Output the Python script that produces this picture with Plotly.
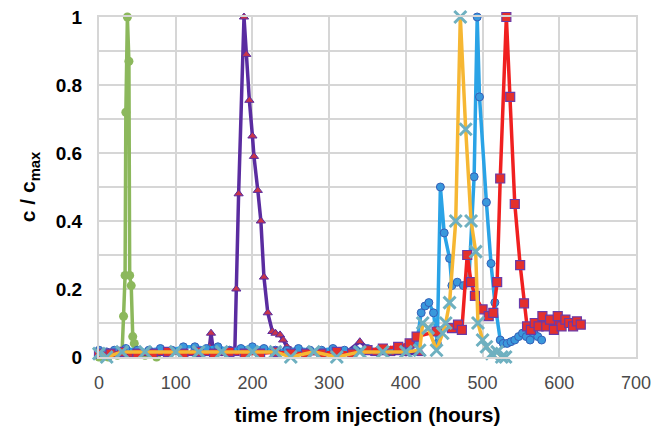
import plotly.graph_objects as go

# ---- data (hours, c/cmax) ----
green_x = [0, 12, 24, 30, 32, 34, 35, 37, 39, 40, 42, 44, 46, 48, 52, 60, 75]
green_y = [0.0, 0.0, 0.005, 0.01, 0.12, 0.24, 0.72, 1.0, 0.87, 0.24, 0.21, 0.06, 0.04, 0.02, 0.01, 0.005, 0.0]

purple_x = [0, 20, 40, 60, 80, 100, 120, 140, 144, 146, 149, 155, 165, 177, 179, 182, 189, 192, 196,
            200, 202, 207, 211, 215, 220, 226, 230, 236, 240, 245, 250, 270, 300, 320, 340, 360, 380, 400, 420]
purple_y = [0.01, 0.01, 0.005, 0.01, 0.01, 0.015, 0.01, 0.01, 0.03, 0.07, 0.02, 0.01, 0.01, 0.01, 0.2, 0.48,
            1.0, 0.89, 0.755, 0.65, 0.59, 0.49, 0.40, 0.235, 0.13, 0.075, 0.07, 0.065, 0.05, 0.03, 0.02,
            0.01, 0.01, 0.01, 0.045, 0.01, 0.01, 0.01, 0.01]

blue_x = [0, 10, 20, 35, 50, 65, 80, 95, 110, 125, 140, 155, 170, 185, 200, 215, 230, 245, 260, 275,
          290, 305, 320, 335, 350, 365, 380, 395, 405, 414, 420, 425, 430, 436, 441, 445, 450, 457, 460,
          467, 475, 482, 489, 493, 496, 505, 511, 516, 523, 527, 532, 537, 542, 547, 552, 557, 562, 567,
          572, 577]
blue_y = [0.02, 0.015, 0.02, 0.025, 0.02, 0.02, 0.025, 0.02, 0.03, 0.03, 0.025, 0.03, 0.02, 0.025, 0.03,
          0.025, 0.02, 0.02, 0.025, 0.02, 0.02, 0.025, 0.02, 0.02, 0.025, 0.02, 0.02, 0.025, 0.03, 0.04,
          0.13, 0.15, 0.16, 0.13, 0.04, 0.50, 0.365, 0.29, 0.21, 0.22, 0.21, 0.22, 0.53, 1.0, 0.765, 0.455,
          0.275, 0.16, 0.05, 0.04, 0.04, 0.045, 0.05, 0.06, 0.07, 0.06, 0.05, 0.07, 0.06, 0.05]

red_x = [0, 15, 30, 50, 70, 90, 110, 130, 150, 170, 190, 210, 230, 250, 270, 290, 310, 330, 350, 370,
         390, 405, 414, 440, 460, 468, 473, 480, 485, 490, 500, 508, 514, 519, 523, 531, 536, 542, 549,
         554, 558, 563, 568, 573, 578, 583, 588, 593, 598, 603, 608, 613, 618, 623, 628]
red_y = [0.01, 0.01, 0.015, 0.01, 0.01, 0.015, 0.01, 0.015, 0.01, 0.015, 0.01, 0.01, 0.015, 0.01, 0.01,
         0.01, 0.015, 0.01, 0.02, 0.025, 0.03, 0.04, 0.06, 0.075, 0.085, 0.095, 0.08, 0.30, 0.22, 0.18,
         0.14, 0.12, 0.13, 0.22, 0.525, 1.0, 0.765, 0.45, 0.27, 0.158, 0.09, 0.08, 0.10, 0.09, 0.12, 0.09,
         0.11, 0.08, 0.12, 0.09, 0.11, 0.10, 0.09, 0.105, 0.095]

yellow_x = [0, 10, 30, 60, 100, 130, 160, 200, 230, 250, 280, 310, 340, 370, 400, 418, 422, 429, 440,
            448, 452, 457, 465, 471, 478, 485, 491, 494, 500, 505, 512, 519, 525, 530]
yellow_y = [0.01, 0.0, 0.015, 0.015, 0.015, 0.015, 0.015, 0.015, 0.015, 0.0, 0.015, 0.0, 0.015, 0.015,
            0.015, 0.02, 0.10, 0.085, 0.02, 0.07, 0.10, 0.16, 0.40, 1.0, 0.67, 0.40, 0.31, 0.10, 0.05,
            0.03, 0.01, 0.015, 0.0, 0.0]

x_ticks = [0, 100, 200, 300, 400, 500, 600, 700]
y_ticks = [0, 0.2, 0.4, 0.6, 0.8, 1]
y_tick_text = ["0", "0.2", "0.4", "0.6", "0.8", "1"]

FONT = "Liberation Sans, Arial, sans-serif"
GRID = "#d6d6d6"

fig = go.Figure()

fig.add_trace(go.Scatter(x=green_x, y=green_y, mode="lines+markers", cliponaxis=False,
                         line=dict(color="#8cb85c", width=3.5),
                         marker=dict(symbol="circle", size=9, color="#8cb85c")))
fig.add_trace(go.Scatter(x=purple_x, y=purple_y, mode="lines+markers", cliponaxis=False,
                         line=dict(color="#5a2ca0", width=3.5),
                         marker=dict(symbol="triangle-up", size=8, color="#c8354a",
                                     line=dict(color="#5a2ca0", width=1))))
fig.add_trace(go.Scatter(x=blue_x, y=blue_y, mode="lines+markers", cliponaxis=False,
                         line=dict(color="#2aa3e6", width=3.5),
                         marker=dict(symbol="circle", size=8, color="#3a98dc",
                                     line=dict(color="#3560b8", width=1))))
fig.add_trace(go.Scatter(x=red_x, y=red_y, mode="lines+markers", cliponaxis=False,
                         line=dict(color="#f02020", width=3.5),
                         marker=dict(symbol="square", size=9, color="#e4302c",
                                     line=dict(color="#6a3aa8", width=1.2))))
fig.add_trace(go.Scatter(x=yellow_x, y=yellow_y, mode="lines+markers", cliponaxis=False,
                         line=dict(color="#f6b733", width=3.5),
                         marker=dict(symbol="x-thin", size=12, color="#6eb0c0",
                                     line=dict(color="#6eb0c0", width=3))))

fig.update_layout(
    width=652, height=430,
    margin=dict(l=99, r=16, t=17, b=73),
    paper_bgcolor="white", plot_bgcolor="white",
    showlegend=False,
    font=dict(family=FONT, color="#000000"),
    xaxis=dict(range=[0, 700], tickvals=x_ticks, showgrid=True, gridcolor=GRID, gridwidth=2,
               zeroline=False, showline=True, linecolor=GRID, linewidth=2, mirror=True,
               ticks="", ticklabelstandoff=8, automargin=False, ticklabeloverflow="allow",
               tickfont=dict(family=FONT, size=18, color="#4a4a4a"),
               title=dict(text="<b>time from injection (hours)</b>", standoff=16,
                          font=dict(family=FONT, size=21, color="#000000"))),
    yaxis=dict(range=[0, 1], tickvals=y_ticks, ticktext=y_tick_text, showgrid=True, gridcolor=GRID,
               gridwidth=2, zeroline=False, showline=True, linecolor=GRID, linewidth=2, mirror=True,
               ticks="", ticklabelstandoff=11, automargin=False, ticklabeloverflow="allow",
               minor=dict(dtick=0.1, showgrid=True, gridcolor=GRID, gridwidth=2),
               tickfont=dict(family=FONT, size=19, color="#000000", weight="bold"),
               title=dict(text="<b>c / c<sub>max</sub></b>", standoff=14,
                          font=dict(family=FONT, size=21, color="#000000"))),
)

# remove the page's default 8px body margin so the figure fills the window exactly
fig.write_html("out.html", config={"displayModeBar": False},
               post_script="document.body.style.margin='0';document.body.style.overflow='hidden';")
